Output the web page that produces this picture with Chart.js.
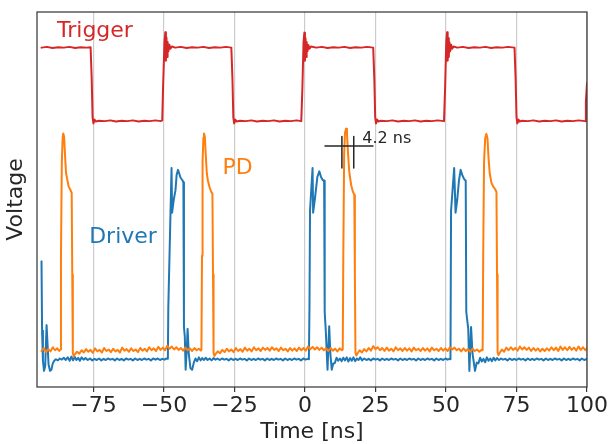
<!DOCTYPE html>
<html>
<head>
<meta charset="utf-8">
<script src="https://cdn.jsdelivr.net/npm/chart.js@4/dist/chart.umd.min.js"></script>
<style>
  html, body { margin: 0; padding: 0; background: #fff; }
  canvas { display: block; }
</style>
</head>
<body>
<canvas id="scope" width="611" height="444"></canvas>
<script>
// time axis ticks (ns)
const xTicks = [-75, -50, -25, 0, 25, 50, 75, 100];

// trigger output, [time ns, voltage a.u.]
const triggerTrace = [
  [-93.4,90.5],[-91.5,90.7],[-89.5,90.4],[-87.5,90.6],[-85.5,90.5],[-83.5,90.7],[-81.5,90.4],[-79.5,90.6],[-77.5,90.5],[-76.0,90.6],
  [-75.6,82],[-75.3,72],[-75.0,70.3],[-74.6,71.3],[-74.2,70.8],[-73,71.0],[-71,70.9],[-69,71.1],[-67,70.8],[-65,71.0],[-63,70.9],[-61,71.1],[-59,70.8],[-57,71.0],[-55,70.9],[-53,71.1],[-51.2,70.9],[-50.6,71.1],
  [-50.3,80],[-49.8,92],[-49.5,94.6],[-49.3,87],[-49.1,93.2],[-48.9,88],[-48.7,92],[-48.4,89.5],[-48.1,91.3],[-47.7,90.2],[-47.2,90.8],[-46,90.5],[-44,90.7],[-42,90.4],[-40,90.6],[-38,90.5],[-36,90.7],[-34,90.4],[-32,90.6],[-30,90.5],[-28,90.7],[-26.1,90.5],
  [-25.7,82],[-25.4,72],[-25.1,70.3],[-24.7,71.3],[-24.3,70.8],[-23,71.0],[-21,70.9],[-19,71.1],[-17,70.8],[-15,71.0],[-13,70.9],[-11,71.1],[-9,70.8],[-7,71.0],[-5,70.9],[-3,71.1],[-1.3,70.9],
  [-0.9,80],[-0.5,92],[-0.2,94.5],[0.0,87],[0.2,93],[0.4,88],[0.6,92],[0.9,89.5],[1.2,91.2],[1.6,90.2],[2.1,90.8],[4,90.5],[6,90.7],[8,90.4],[10,90.6],[12,90.5],[14,90.7],[16,90.4],[18,90.6],[20,90.5],[22,90.7],[24.2,90.5],
  [24.6,82],[24.9,72],[25.2,70.3],[25.6,71.3],[26,70.8],[27,71.0],[29,70.9],[31,71.1],[33,70.8],[35,71.0],[37,70.9],[39,71.1],[41,70.8],[43,71.0],[45,70.9],[47,71.1],[49.3,70.9],
  [49.7,80],[50.1,92],[50.4,94.6],[50.6,87],[50.8,93],[51.0,88],[51.2,92],[51.5,89.5],[51.8,91.3],[52.2,90.2],[52.7,90.8],[54,90.5],[56,90.7],[58,90.4],[60,90.6],[62,90.5],[64,90.7],[66,90.4],[68,90.6],[70,90.5],[72,90.7],[74.3,90.5],
  [74.7,82],[75.0,72],[75.3,70.3],[75.7,71.3],[76.1,70.8],[77,71.0],[79,70.9],[81,71.1],[83,70.8],[85,71.0],[87,70.9],[89,71.1],[91,70.8],[93,71.0],[95,70.9],[97,71.1],[99.3,70.9],[99.6,76],[100,81]
];

// photodiode signal
const pdTrace = [
  [-93.4,9.6],[-92.6,10.4],[-91.8,9.3],[-91,10.1],[-90.2,9.5],[-89.4,10.6],[-88.6,9.8],[-87.8,10.3],[-87.1,9.6],
  [-86.7,10.0],[-86.5,35],[-86.2,60],[-85.9,66.5],[-85.7,67.6],[-85.4,66.8],[-85.0,61],[-84.7,57],[-84.3,55.5],[-83.8,53.5],[-83.2,52.6],[-82.7,51.8],[-82.5,30],[-82.3,9.0],[-82.0,8.2],[-81.5,8.8],
  [-80.8,9.4],[-80,8.9],[-79.2,9.8],[-78.4,9.2],[-77.6,10.1],[-76.8,9.4],[-76,9.9],[-75.2,9.1],[-74.4,10.3],[-73.6,9.5],[-72.8,9.9],[-72,9.2],[-71.2,10.4],[-70.4,9.6],[-69.6,10.0],[-68.8,9.3],[-68,10.2],[-67.2,9.5],[-66.4,9.9],[-65.6,9.2],[-64.8,10.5],[-64,9.7],[-63.2,10.1],[-62.4,9.4],[-61.6,10.3],[-60.8,9.6],[-60,10.0],[-59.2,9.3],[-58.4,10.4],[-57.6,9.7],[-56.8,10.2],[-56,9.5],[-55.2,10.6],[-54.4,9.8],[-53.6,10.3],[-52.8,9.6],[-52,10.7],[-51.2,9.9],[-50.4,10.5],[-49.6,9.8],[-48.8,11.0],[-48,10.2],[-47.2,10.8],[-46.4,10.0],[-45.6,10.6],[-44.8,9.9],[-44,10.4],[-43.2,9.7],[-42.4,10.5],[-41.6,9.8],[-40.8,10.3],[-40,9.6],[-39.2,10.4],[-38.4,9.8],[-37.6,10.2],[-36.9,9.7],
  [-36.7,10.0],[-36.5,35],[-36.3,60],[-36.0,66.5],[-35.8,67.6],[-35.5,66.8],[-35.1,61],[-34.8,57],[-34.4,55],[-33.8,53.2],[-33.2,52],[-32.8,51.5],[-32.6,30],[-32.4,9.0],[-32.1,8.3],[-31.6,8.9],
  [-30.9,9.5],[-30.1,9.0],[-29.3,9.9],[-28.5,9.3],[-27.7,10.2],[-26.9,9.5],[-26.1,10.0],[-25.3,9.3],[-24.5,10.4],[-23.7,9.6],[-22.9,10.1],[-22.1,9.4],[-21.3,10.5],[-20.5,9.7],[-19.7,10.2],[-18.9,9.5],[-18.1,10.6],[-17.3,9.8],[-16.5,10.3],[-15.7,9.6],[-14.9,10.5],[-14.1,9.9],[-13.3,10.4],[-12.5,9.7],[-11.7,10.6],[-10.9,9.9],[-10.1,10.3],[-9.3,9.6],[-8.5,10.5],[-7.7,9.8],[-6.9,10.2],[-6.1,9.5],[-5.3,10.4],[-4.5,9.7],[-3.7,10.3],[-2.9,9.6],[-2.1,10.5],[-1.3,9.8],[-0.5,10.4],[0.3,9.7],[1.1,10.8],[1.9,10.1],[2.7,10.7],[3.5,10.0],[4.3,10.6],[5.1,9.9],[5.9,10.5],[6.7,9.8],[7.5,10.3],[8.3,9.6],[9.1,10.4],[9.9,9.7],[10.7,10.2],[11.5,9.5],[12.3,10.3],[13.1,9.8],
  [13.4,10.0],[13.6,35],[13.9,62],[14.2,67.8],[14.6,68.9],[14.9,67.5],[15.3,62],[15.7,57.5],[16.0,55.8],[16.4,53.8],[16.9,52.3],[17.5,51.2],[17.7,30],[17.9,9.2],[18.2,8.4],[18.7,9.0],
  [19.4,9.8],[20.2,9.2],[21,10.1],[21.8,9.5],[22.6,10.4],[23.4,9.7],[24.2,10.9],[25,10.1],[25.8,10.6],[26.6,9.8],[27.4,10.4],[28.2,9.6],[29,10.5],[29.8,9.7],[30.6,10.2],[31.4,9.5],[32.2,10.6],[33,9.8],[33.8,10.3],[34.6,9.6],[35.4,10.4],[36.2,9.7],[37,10.3],[37.8,9.5],[38.6,10.5],[39.4,9.8],[40.2,10.2],[41,9.6],[41.8,10.4],[42.6,9.7],[43.4,10.3],[44.2,9.5],[45,10.5],[45.8,9.8],[46.6,10.2],[47.4,9.6],[48.2,10.4],[49,9.7],[49.8,10.3],[50.6,9.6],[51.4,10.6],[52.2,10.0],[53,10.5],[53.8,9.8],[54.6,10.2],[55.4,9.5],[56.2,10.3],[57,9.6],[57.8,10.1],[58.6,9.4],[59.4,10.2],[60.2,9.6],[61,10.0],[61.8,9.4],[62.6,9.9],
  [63.0,9.8],[63.2,35],[63.5,60],[63.9,66.3],[64.3,67.5],[64.7,66.4],[65.1,61],[65.5,57],[66.1,54.5],[66.7,53.5],[67.4,52.8],[67.9,52],[68.1,30],[68.3,9.2],[68.6,8.5],[69.1,9.2],
  [69.8,10.0],[70.6,9.4],[71.4,10.5],[72.2,9.8],[73,10.6],[73.8,9.9],[74.6,10.4],[75.4,9.7],[76.2,10.8],[77,10.0],[77.8,10.6],[78.6,9.9],[79.4,10.5],[80.2,9.6],[81,10.4],[81.8,9.7],[82.6,10.3],[83.4,9.5],[84.2,10.2],[85,9.6],[85.8,10.3],[86.6,9.7],[87.4,10.6],[88.2,9.8],[89,10.5],[89.8,9.6],[90.6,10.8],[91.4,9.9],[92.2,10.6],[93,9.8],[93.8,10.7],[94.6,9.9],[95.4,10.5],[96.2,9.7],[97,10.8],[97.8,9.9],[98.6,10.6],[99.4,9.8],[100,10.4]
];

// driver signal
const driverTrace = [
  [-93.4,33.5],[-93.2,15],[-92.9,7],[-92.5,4.3],[-92.1,5.5],[-91.6,16.5],[-91.3,12],[-90.9,6],[-90.4,4.3],[-89.9,4.6],[-89.4,6.3],[-88.9,7.0],[-88.3,7.4],[-87.6,7.1],[-86.9,7.6],[-86.2,7.3],[-85.5,7.8],[-84.8,7.2],[-84.1,7.9],[-83.4,7.0],[-82.8,8.1],[-82.2,7.1],[-81.6,8.0],[-81,7.2],[-80.4,7.8],[-79.8,7.0],[-79.2,7.9],[-78.5,7.3],[-77.8,7.7],[-77,7.2],[-76.2,7.6],[-75.4,7.1],[-74.6,7.5],[-73.8,7.2],[-73,7.6],[-72.2,7.1],[-71.4,7.5],[-70.6,7.2],[-69.8,7.6],[-69,7.3],[-68.2,7.5],[-67.4,7.1],[-66.6,7.6],[-65.8,7.2],[-65,7.5],[-64.2,7.1],[-63.4,7.6],[-62.6,7.3],[-61.8,7.5],[-61,7.1],[-60.2,7.6],[-59.4,7.2],[-58.6,7.5],[-57.8,7.2],[-57,7.6],[-56.2,7.3],[-55.4,7.5],[-54.6,7.1],[-53.8,7.6],[-53,7.3],[-52.2,7.6],[-51.4,7.2],[-50.6,7.5],[-49.8,7.3],[-49.2,7.6],[-48.6,7.5],
  [-48.45,21],[-47.3,58.4],[-47.1,46.5],[-46.5,50],[-45.9,52.5],[-45.5,56.5],[-45.0,57.9],[-44.6,57.0],[-44.1,55.8],[-43.5,55.2],[-43.1,54.6],[-42.9,16],[-42.6,13.5],[-42.3,4.6],[-41.9,10],[-41.6,15.5],[-41.2,9],[-40.6,5.0],[-40.0,4.6],[-39.4,6.5],[-38.8,7.6],[-38.2,6.9],[-37.6,7.9],[-37,7.1],[-36.4,7.7],[-35.8,7.2],[-35.2,7.8],[-34.5,7.2],[-33.8,7.6],[-33.1,7.1],[-32.4,7.7],[-31.7,7.3],[-31,7.6],[-30.2,7.2],[-29.4,7.6],[-28.6,7.3],[-27.8,7.5],[-27,7.1],[-26.2,7.6],[-25.4,7.2],[-24.6,7.5],[-23.8,7.2],[-23,7.6],[-22.2,7.3],[-21.4,7.5],[-20.6,7.1],[-19.8,7.6],[-19,7.2],[-18.2,7.5],[-17.4,7.2],[-16.6,7.6],[-15.8,7.3],[-15,7.5],[-14.2,7.1],[-13.4,7.6],[-12.6,7.2],[-11.8,7.5],[-11,7.2],[-10.2,7.6],[-9.4,7.3],[-8.6,7.5],[-7.8,7.1],[-7,7.6],[-6.2,7.2],[-5.4,7.5],[-4.6,7.2],[-3.8,7.6],[-3,7.3],[-2.2,7.5],[-1.4,7.1],[-0.6,7.6],[0.2,7.3],[0.9,7.5],[1.4,7.4],
  [1.6,21],[1.8,47],[2.7,58.4],[2.9,46.5],[3.5,50],[4.4,56],[5.1,57.5],[5.7,56],[6.3,55.2],[6.8,55],[7.0,20],[7.4,14.8],[8.0,4.6],[8.6,16.2],[9.0,9],[9.5,4.6],[10.0,6.2],[10.6,6.4],[11.2,7.8],[11.8,7.0],[12.4,7.6],[13.0,6.9],[13.6,7.8],[14.2,7.1],[14.8,7.9],[15.4,6.8],[16,7.7],[16.6,7.0],[17.2,7.9],[17.8,6.9],[18.4,7.6],[19,7.2],[19.6,7.9],[20.3,7.1],[21,7.6],[21.8,7.2],[22.6,7.5],[23.4,7.1],[24.2,7.6],[25,7.3],[25.8,7.5],[26.6,7.1],[27.4,7.6],[28.2,7.2],[29,7.5],[29.8,7.2],[30.6,7.6],[31.4,7.3],[32.2,7.5],[33,7.1],[33.8,7.6],[34.6,7.2],[35.4,7.5],[36.2,7.2],[37,7.6],[37.8,7.3],[38.6,7.5],[39.4,7.1],[40.2,7.6],[41,7.2],[41.8,7.5],[42.6,7.2],[43.4,7.6],[44.2,7.3],[45,7.5],[45.8,7.1],[46.6,7.6],[47.4,7.2],[48.2,7.5],[49,7.2],[49.8,7.6],[50.6,7.3],[51.2,7.5],[51.6,7.4],
  [51.8,47],[52.9,58.4],[53.4,46.5],[54,50],[54.6,55],[55.2,57.9],[55.8,56.5],[56.4,55.5],[57.0,55.0],[57.2,20],[57.9,15.5],[58.3,4.3],[58.9,16],[59.4,9],[60.3,4.3],[60.9,6.5],[61.5,6.3],[62.1,7.8],[62.7,6.8],[63.3,7.5],[63.9,6.6],[64.5,7.9],[65.1,7.0],[65.7,7.6],[66.3,6.9],[66.9,7.8],[67.5,7.1],[68.1,7.7],[68.8,7.2],[69.5,7.6],[70.2,7.3],[71,7.5],[71.8,7.1],[72.6,7.6],[73.4,7.2],[74.2,7.5],[75,7.2],[75.8,7.6],[76.6,7.3],[77.4,7.5],[78.2,7.1],[79,7.6],[79.8,7.2],[80.6,7.5],[81.4,7.2],[82.2,7.6],[83,7.3],[83.8,7.5],[84.6,7.1],[85.4,7.6],[86.2,7.2],[87,7.5],[87.8,7.2],[88.6,7.6],[89.4,7.3],[90.2,7.5],[91,7.1],[91.8,7.6],[92.6,7.2],[93.4,7.5],[94.2,7.2],[95,7.6],[95.8,7.3],[96.6,7.5],[97.4,7.1],[98.2,7.6],[99,7.2],[100,7.5]
];

// pulse width marker (4.2 ns)
const widthBar = [[7.1, 64.3], [24.1, 64.3]];
const widthStart = [[13.1, 66.8], [13.1, 58.4]];
const widthEnd = [[17.3, 66.8], [17.3, 58.4]];
const widthLabel = '4.2 ns';

const toXY = arr => arr.map(p => ({ x: p[0], y: p[1] }));

const FONT = "'DejaVu Sans', sans-serif";
const INK = '#262626';

// trace names drawn next to the curves
const namePlugin = {
  id: 'names',
  afterDatasetsDraw(chart) {
    const { ctx, chartArea: a, scales: { x, y } } = chart;
    ctx.save();
    // frame (all four spines)
    ctx.strokeStyle = '#3a3a3a';
    ctx.lineWidth = 1.25;
    ctx.strokeRect(a.left, a.top, a.right - a.left, a.bottom - a.top);

    ctx.textAlign = 'left';
    ctx.textBaseline = 'alphabetic';
    const put = (txt, t, v, color, size) => {
      ctx.fillStyle = color;
      ctx.font = size + 'px ' + FONT;
      ctx.fillText(txt, x.getPixelForValue(t), y.getPixelForValue(v));
    };
    put('Trigger', -87.9, 93.3, '#d62728', 22);
    put('PD', -29.2, 56.9, '#ff7f0e', 22);
    put('Driver', -76.5, 38.3, '#1f77b4', 22);
    put(widthLabel, 20.3, 65.2, INK, 16);
    ctx.restore();
  }
};

const lineStyle = { pointRadius: 0, borderWidth: 2, tension: 0, fill: false, borderJoinStyle: 'round', borderCapStyle: 'round' };

new Chart(document.getElementById('scope'), {
  type: 'line',
  data: {
    datasets: [
      { label: 'bar', data: toXY(widthBar), borderColor: INK, ...lineStyle, borderWidth: 1.5 },
      { label: 'start', data: toXY(widthStart), borderColor: INK, ...lineStyle, borderWidth: 1.5 },
      { label: 'end', data: toXY(widthEnd), borderColor: INK, ...lineStyle, borderWidth: 1.5 },
      { label: 'PD', data: toXY(pdTrace), borderColor: '#ff7f0e', ...lineStyle },
      { label: 'Driver', data: toXY(driverTrace), borderColor: '#1f77b4', ...lineStyle },
      { label: 'Trigger', data: toXY(triggerTrace), borderColor: '#d62728', ...lineStyle }
    ]
  },
  options: {
    responsive: false,
    animation: false,
    layout: { padding: { top: 12, right: 24, bottom: 1, left: -0.4 } },
    plugins: { legend: { display: false }, tooltip: { enabled: false } },
    scales: {
      x: {
        type: 'linear',
        min: -95,
        max: 100,
        afterBuildTicks: axis => { axis.ticks = xTicks.map(v => ({ value: v })); },
        grid: { color: '#cccccc', lineWidth: 1.2, tickLength: 5, tickColor: '#3a3a3a', drawTicks: true },
        border: { display: false },
        ticks: {
          color: INK,
          padding: 3,
          maxRotation: 0,
          font: { family: FONT, size: 22, lineHeight: 1.0 },
          callback: v => (v < 0 ? '\u2212' + Math.abs(v) : String(v))
        },
        title: {
          display: true,
          text: 'Time [ns]',
          color: INK,
          font: { family: FONT, size: 22, lineHeight: 1.0 },
          padding: { top: 1, bottom: 0 }
        }
      },
      y: {
        min: 0,
        max: 100,
        grid: { display: false },
        border: { display: false },
        ticks: { display: false },
        title: {
          display: true,
          text: 'Voltage',
          color: INK,
          font: { family: FONT, size: 22, lineHeight: 1.2 },
          padding: { top: 3, bottom: 0 }
        }
      }
    }
  },
  plugins: [namePlugin]
});
</script>
</body>
</html>
